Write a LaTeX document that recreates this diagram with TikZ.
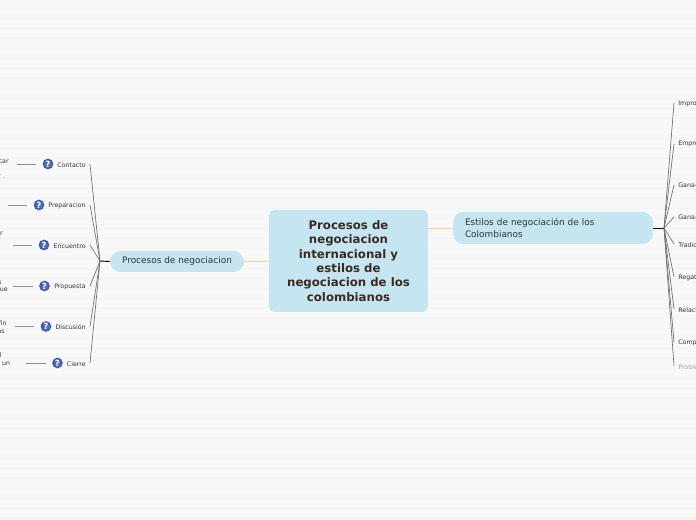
\documentclass[tikz,border=0pt]{standalone}
\usepackage{fontspec}
\setmainfont{DejaVu Sans}
\definecolor{paper}{HTML}{F8F8F8}
\definecolor{rule}{HTML}{F3F3F3}
\definecolor{bubble}{HTML}{C5E5F0}
\definecolor{titlec}{HTML}{3B2A20}
\definecolor{inkc}{HTML}{333333}
\definecolor{link}{HTML}{FFCF87}
\definecolor{spoke}{HTML}{707070}
\definecolor{badge}{HTML}{3553B0}
\tikzset{
  rootbox/.style={fill=bubble,rounded corners=4pt,minimum width=119pt,minimum height=76.5pt,inner sep=0pt,
    align=center,text=titlec,font=\fontsize{8.8}{10.8}\selectfont\bfseries},
  mainbox/.style={fill=bubble,rounded corners=8pt,inner sep=0pt,text=inkc,font=\fontsize{6.7}{8.6}\selectfont},
  leaf/.style={inner sep=0pt,text=inkc,yshift=-.6pt,font=\fontsize{4.7}{6}\selectfont},
  hidden/.style={leaf,anchor=east},
  askmark/.style={circle,inner color=badge!75!white,outer color=badge,minimum size=8pt,inner sep=0pt,text=white,
    font=\fontsize{6.5}{6.5}\selectfont\bfseries},
  spokeline/.style={draw=spoke,line width=.5pt},
  noteline/.style={draw=spoke!80!white,line width=.5pt,shorten >=4.5pt}
}
\begin{document}
\begin{tikzpicture}[x=.75pt,y=-.75pt,line width=.55pt]
  \useasboundingbox (0,0) rectangle (696,520);
  \fill[paper] (0,0) rectangle (696,520);
  \foreach \yy in {8,18,...,518}
    \draw[rule,line width=.6pt] (0,\yy+.5)--(696,\yy+.5);
  % links from the centre
  \coordinate (hubl) at (100,261);
  \coordinate (hubr) at (664,228);
  \node[rootbox] (root) at (348.5,261) {\raisebox{-1pt}{\parbox{118pt}{\centering Procesos de\\negociacion\\internacional y\\estilos de\\negociacion de los\\colombianos}}};
  \node[mainbox,minimum width=100.5pt,minimum height=15.75pt] (nego) at (177,261.5) {Procesos de negociacion};
  \node[mainbox,minimum width=150pt,minimum height=24pt,align=left,text width=132pt,inner xsep=9pt] (esti) at (553,228) {Estilos de negociación de los\\Colombianos};
  \draw[link,line width=.7pt] (root.west |- nego)--(nego.east);
  \draw[link,line width=.7pt] (root.east |- esti)--(esti.west);
  \draw[black,line width=.7pt] (nego.west)--(hubl);
  \draw[black,line width=.7pt] (esti.east)--(hubr);
  % left branch
  \foreach \nm/\txt/\yy/\qx/\nx in {cont/Contacto/164/48/17,prep/Preparacion/205/39/8,encu/Encuentro/245/44/13,prop/Propuesta/286/44.5/13,disc/Discusión/326.5/46/15,cier/Cierre/363/57.5/26}{
    \node[leaf,anchor=east] (\nm) at (86,\yy) {\txt};
    \node[askmark] (q\nm) at (\qx,\yy) {?};
    \coordinate (s\nm) at (90,\yy);
    \coordinate (n\nm) at (\nx,\yy);
    \draw[spokeline] (hubl)--(s\nm);
    \draw[noteline] (n\nm)--(q\nm.west);
  }
  \foreach \nm/\txt/\xx/\yy in {ta/car/9/160.5,tb/r ./5/176,tc/r/3/233,td/s/2/281.5,te/que/8/289.5,tf/fin/7/322,tg/os/5/331,th/l/2/354,ti/un/10.5/362.5}
    \node[hidden] (\nm) at (\xx,\yy) {\txt};
  % right branch
  \foreach \nm/\txt/\yy/\sy in {impr/Impro/103/103,empr/Empre/143.5/144,gana/Gana-/184/185,ganb/Gana-/216.5/217,trad/Tradic/244.5/244,rega/Regat/277.5/277,rela/Relaci/309.5/309,comp/Compe/342.5/342}{
    \node[leaf,anchor=west] (\nm) at (678,\yy) {\txt};
    \coordinate (s\nm) at (674,\sy);
    \draw[spokeline] (hubr)--(s\nm);
  }
  \node[leaf,anchor=west,text=black!35] (prob) at (678,366.5) {Proble};
  \coordinate (sprob) at (674,366);
  \draw[spokeline] (hubr)--(sprob);
\end{tikzpicture}
\end{document}
